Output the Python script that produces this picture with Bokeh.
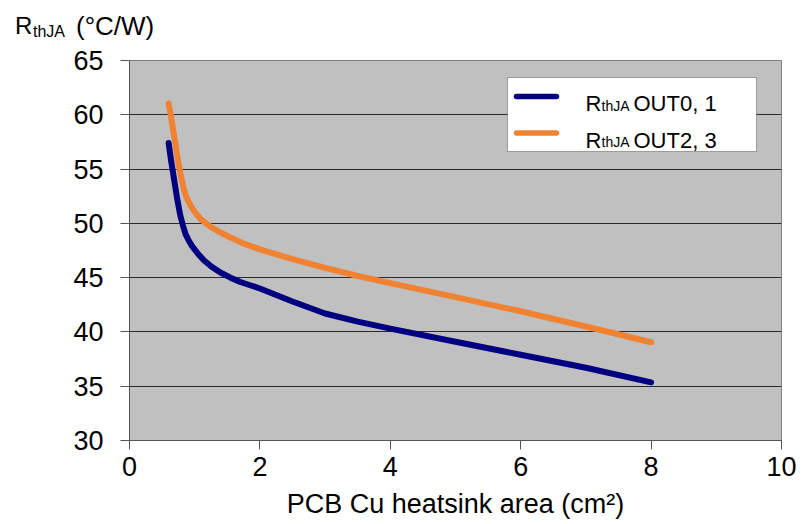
from bokeh.plotting import figure
from bokeh.layouts import column
from bokeh.models import Range1d, FixedTicker, Label, BoxAnnotation, Arrow, ColumnDataSource, Div
from bokeh.embed import file_html
from bokeh.resources import INLINE

# ---- data ----
area_out01 = [0.60, 0.64, 0.68, 0.73, 0.78, 0.82, 0.86, 0.91, 0.96, 1.05, 1.14, 1.26, 1.40, 1.55, 1.70, 1.85, 2.0, 2.5, 3.0, 3.5, 4.0, 5.0, 6.0, 7.0, 8.0]
rth_out01 = [57.4, 55.7, 54.2, 52.3, 50.7, 49.8, 49.0, 48.4, 47.9, 47.2, 46.6, 46.0, 45.45, 45.0, 44.6, 44.3, 44.0, 42.8, 41.7, 40.95, 40.3, 39.1, 37.9, 36.7, 35.35]

area_out23 = [0.60, 0.64, 0.68, 0.72, 0.76, 0.83, 0.88, 0.94, 1.02, 1.09, 1.24, 1.40, 1.55, 1.75, 2.0, 2.5, 3.0, 3.5, 4.0, 5.0, 6.0, 7.0, 8.0]
rth_out23 = [61.05, 59.7, 58.2, 56.7, 55.2, 53.2, 52.3, 51.6, 50.9, 50.4, 49.7, 49.15, 48.7, 48.15, 47.6, 46.7, 45.9, 45.15, 44.5, 43.2, 41.9, 40.5, 39.05]

x_ticks = [0, 2, 4, 6, 8, 10]
y_ticks = [30, 35, 40, 45, 50, 55, 60, 65]

BLUE = "#000080"
ORANGE = "#F08232"
FONT = "Liberation Sans"

W = 800
TH = 44                      # height of the strip holding the y-axis title
FL, FR, FT, FB = 129, 781, 60, 440   # page coordinates of the plot frame
H = 522 - TH

# ---- y-axis title strip (HTML, allows the subscript) ----
def span(text, left, top, size):
    return (f'<span style="position:absolute;left:{left}px;top:{top}px;font-family:\'{FONT}\';'
            f'font-size:{size}px;line-height:{size}px;color:black;white-space:nowrap">{text}</span>')

title_html = ('<div style="position:relative;width:%dpx;height:%dpx">' % (W, TH)
              + span("R", 15, 14, 24) + span("thJA", 33, 24, 16) + span("(°C/W)", 76, 13, 26)
              + '</div>')
tdiv = Div(text=title_html, width=W, height=TH, margin=0)

# ---- main chart ----
p = figure(width=W, height=H, output_backend="svg", toolbar_location=None,
           x_range=Range1d(0, 10), y_range=Range1d(30, 65),
           min_border_left=FL, min_border_right=W - FR, min_border_top=FT - TH,
           min_border_bottom=522 - FB)

p.background_fill_color = "#C0C0C0"
p.border_fill_color = "white"
p.outline_line_color = "#808080"
p.outline_line_width = 1

p.xgrid.visible = False
p.ygrid.grid_line_color = "#2a2a2a"
p.ygrid.grid_line_width = 1
p.ygrid.ticker = FixedTicker(ticks=y_ticks)

for ax in (p.xaxis[0], p.yaxis[0]):
    ax.axis_line_color = "#555555"
    ax.major_tick_line_color = "#555555"
    ax.major_tick_out = 9
    ax.major_tick_in = 0
    ax.minor_tick_line_color = None
    ax.major_label_text_font = FONT
    ax.major_label_text_font_size = "27px"
    ax.major_label_text_color = "black"

p.xaxis.ticker = FixedTicker(ticks=x_ticks)
p.yaxis.ticker = FixedTicker(ticks=y_ticks)
p.xaxis.major_label_standoff = 7
p.yaxis.major_label_standoff = 17
p.xaxis.axis_label = "PCB Cu heatsink area (cm²)"
p.xaxis.axis_label_text_font = FONT
p.xaxis.axis_label_text_font_size = "27px"
p.xaxis.axis_label_text_font_style = "normal"
p.xaxis.axis_label_text_color = "black"
p.xaxis.axis_label_standoff = 10

s1 = ColumnDataSource(dict(x=area_out01, y=rth_out01))
s2 = ColumnDataSource(dict(x=area_out23, y=rth_out23))
p.line("x", "y", source=s1, line_color=BLUE, line_width=6, line_cap="round", line_join="round")
p.line("x", "y", source=s2, line_color=ORANGE, line_width=6, line_cap="round", line_join="round")

# screen units are relative to the frame, y measured upward from its bottom
def sx(px):
    return px - FL
def sy(py):
    return FB - py

def lab(text, px, py, size):
    p.add_layout(Label(x=sx(px), y=sy(py), x_units="screen", y_units="screen", text=text,
                       text_font=FONT, text_font_size=size, text_color="black",
                       text_align="left", text_baseline="alphabetic", level="overlay"))

# legend box and samples
p.add_layout(BoxAnnotation(left=sx(507), right=sx(756), top=sy(77), bottom=sy(151),
                           left_units="screen", right_units="screen", top_units="screen", bottom_units="screen",
                           fill_color="white", fill_alpha=1, line_color="black", line_width=1, level="overlay"))
for col, py, txt in ((BLUE, 96, "OUT0, 1"), (ORANGE, 132.5, "OUT2, 3")):
    p.add_layout(Arrow(x_start=sx(516), y_start=sy(py), x_end=sx(556), y_end=sy(py),
                       start_units="screen", end_units="screen", start=None, end=None,
                       line_color=col, line_width=5.5, line_cap="round", level="overlay"))
    lab("R", 585, py + 7, "22px")
    lab("thJA", 601, py + 9, "14px")
    lab(txt, 633, py + 7, "22px")

layout = column(tdiv, p, spacing=0)
open("out.html", "w").write(file_html(layout, INLINE))
